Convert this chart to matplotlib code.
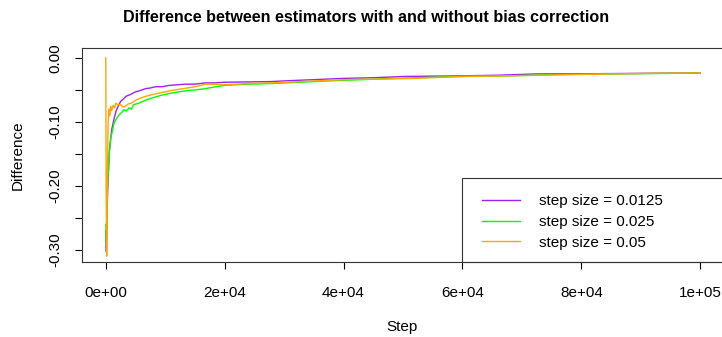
import matplotlib.pyplot as plt
from matplotlib.patches import Rectangle

plt.rcParams['font.family'] = ['Liberation Sans', 'DejaVu Sans']

# values
steps_p = [1, 100, 300, 600, 1000, 1400, 1700, 2100, 2500, 3000, 3400, 4200, 5000,
           5800, 6700, 7500, 8400, 9500, 10600, 12000, 13400, 15000, 16800, 18500,
           20000, 24000, 27700, 31000, 35000, 40000, 45000, 50100, 55000, 60000,
           66000, 72600, 79000, 85000, 92000, 100000]
diff_p = [-0.27, -0.303, -0.21, -0.145, -0.112, -0.095, -0.084, -0.075, -0.068, -0.064,
          -0.060, -0.057, -0.053, -0.051, -0.048, -0.047, -0.045, -0.045, -0.043, -0.042,
          -0.041, -0.041, -0.039, -0.039, -0.038, -0.0375, -0.037, -0.0355, -0.034, -0.032,
          -0.031, -0.029, -0.0285, -0.028, -0.027, -0.025, -0.0248, -0.0245, -0.024, -0.0234]

steps_g = [1, 100, 300, 600, 840, 1100, 1400, 1800, 2240, 2700, 3080, 3500, 3900, 4300,
           4700, 5500, 6700, 8000, 9500, 11000, 12300, 13700, 15100, 16800, 18500, 20000,
           24000, 28000, 35000, 40000, 46000, 52000, 60000, 68000, 76000, 85000, 92000, 100000]
diff_g = [-0.26, -0.29, -0.2, -0.15, -0.125, -0.115, -0.102, -0.095, -0.089, -0.085,
          -0.081, -0.083, -0.078, -0.08, -0.073, -0.071, -0.066, -0.062, -0.058, -0.055,
          -0.053, -0.051, -0.050, -0.048, -0.045, -0.043, -0.041, -0.040, -0.037, -0.035,
          -0.033, -0.031, -0.029, -0.028, -0.026, -0.025, -0.0245, -0.0236]

steps_o = [1, 60, 150, 250, 400, 550, 700, 840, 1000, 1250, 1500, 1680, 2000, 2500, 2900,
           3360, 3800, 4200, 4600, 5040, 5800, 6700, 8000, 9500, 11000, 12300, 13700, 15100,
           16800, 20000, 24000, 28000, 35000, 40000, 46000, 52000, 60000, 68000, 76000,
           85000, 92000, 100000]
diff_o = [0.0, -0.2, -0.31, -0.2, -0.1, -0.08, -0.09, -0.076, -0.082, -0.074, -0.078, -0.071,
          -0.073, -0.073, -0.077, -0.075, -0.072, -0.071, -0.069, -0.066, -0.063, -0.060,
          -0.057, -0.054, -0.051, -0.049, -0.047, -0.045, -0.041, -0.042, -0.040, -0.039,
          -0.036, -0.034, -0.033, -0.032, -0.029, -0.028, -0.0265, -0.025, -0.024, -0.0234]

labels = ["step size = 0.0125", "step size = 0.025", "step size = 0.05"]
colors = ["#A020F0", "#00FF00", "#FFA500"]

W, H = 722, 337
fig = plt.figure(figsize=(W / 100, H / 100), dpi=100)
# plot box in pixels: left 82, right 724 (cut off), top 48, bottom 262
ax = fig.add_axes([82 / W, (H - 262) / H, 642 / W, 214 / H])

for s, d, c, lab in zip([steps_p, steps_g, steps_o], [diff_p, diff_g, diff_o], colors, labels):
    ax.plot(s, d, color=c, lw=1.0, label=lab)

ax.set_xlim(-4000, 104000)
ax.set_ylim(-0.319, 0.0155)
ax.set_xticks([0, 20000, 40000, 60000, 80000, 100000])
ax.set_xticklabels(["0e+00", "2e+04", "4e+04", "6e+04", "8e+04", "1e+05"])
ax.set_yticks([-0.30, -0.25, -0.20, -0.15, -0.10, -0.05, 0.00])
ax.set_yticklabels(["-0.30", "", "-0.20", "", "-0.10", "", "0.00"], rotation=90, va='center')
ax.tick_params(direction='out', length=5, width=0.8, labelsize=11, colors='black')
ax.tick_params(axis='x', pad=12.5)
ax.tick_params(axis='y', pad=9)
for sp in ax.spines.values():
    sp.set_linewidth(0.8)
    sp.set_color('#333333')

ax.set_xlabel("Step", fontsize=11, va='center')
ax.xaxis.set_label_coords((402 - 82) / 642, (262 - 327) / 214)
ax.set_ylabel("Difference", fontsize=11, va='center')
ax.yaxis.set_label_coords((18 - 82) / 642, (262 - 155) / 214)

fig.text(366 / W, 1 - 17 / H, "Difference between estimators with and without bias correction",
         ha='center', va='center', fontsize=11.6, fontweight='bold')

# legend frame reaching the plot corner, as in the base R plot
ax.add_patch(Rectangle(((462 - 82) / 642, 0), 1.0, (262 - 178) / 214, transform=ax.transAxes,
                       fill=False, lw=0.8, edgecolor='#333333', clip_on=False))
ax.legend(loc='upper left', bbox_to_anchor=((482 - 82) / 642, (262 - 194) / 214),
          frameon=False, borderpad=0, borderaxespad=0, fontsize=11,
          handlelength=2.5, handletextpad=1.2, labelspacing=0.45)

fig.savefig("out.png", dpi=100)
